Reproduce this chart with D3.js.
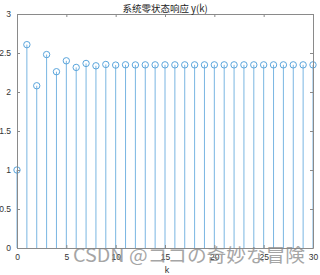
<!DOCTYPE html>
<html><head><meta charset="utf-8">
<script src="https://cdn.jsdelivr.net/npm/d3@7"></script>
<style>body{margin:0;background:#fff}svg{display:block}</style>
</head><body>
<script>
const kValues = d3.range(0, 31);
const yValues = [1, 2.607, 2.08, 2.48, 2.26, 2.40, 2.315, 2.366, 2.336, 2.353, 2.345,
  2.349, 2.347, 2.348, 2.348, 2.348, 2.348, 2.348, 2.348, 2.348, 2.348,
  2.348, 2.348, 2.348, 2.348, 2.348, 2.348, 2.348, 2.348, 2.348, 2.348];
const xTicks = [0, 5, 10, 15, 20, 25, 30];
const yTicks = [0, 0.5, 1, 1.5, 2, 2.5, 3];
const titleText = "系统零状态响应 y(k)";
const xLabel = "k";
const watermark = "CSDN @ココの奇妙な冒険";

const W = 320, H = 275;
const m = {l: 17, r: 7, t: 14, b: 27};
const svg = d3.select("body").append("svg").attr("width", W).attr("height", H);
const x = d3.scaleLinear().domain([0, 30]).range([m.l, W - m.r]);
const y = d3.scaleLinear().domain([0, 3]).range([H - m.b, m.t]);
const axisColor = "#8a8a8a", textColor = "#333";
const font = "Liberation Sans, Arial, sans-serif";

// stems
const stemColor = "#5aa5dc";
svg.append("g").selectAll("line").data(kValues).join("line")
  .attr("x1", d => x(d)).attr("x2", d => x(d))
  .attr("y1", y(0)).attr("y2", (d, i) => y(yValues[i]))
  .attr("stroke", stemColor).attr("stroke-width", 1).attr("opacity", 0.8);
svg.append("g").selectAll("circle").data(kValues).join("circle")
  .attr("cx", d => x(d)).attr("cy", (d, i) => y(yValues[i]))
  .attr("r", 3.2).attr("fill", "none").attr("stroke", stemColor).attr("stroke-width", 1);

// axes (ticks inward)
const ax = svg.append("g");
function styleAxis(g) {
  g.selectAll("path").attr("stroke", axisColor);
  g.selectAll("line").attr("stroke", axisColor);
  g.selectAll("text").attr("fill", textColor).attr("font-family", font).attr("font-size", 8.5);
}
ax.append("g").attr("transform", `translate(0,${y(0)})`)
  .call(d3.axisBottom(x).tickValues(xTicks).tickSizeInner(-3).tickSizeOuter(0).tickPadding(6))
  .call(styleAxis);
ax.append("g").attr("transform", `translate(0,${y(3)})`)
  .call(d3.axisTop(x).tickValues(xTicks).tickSizeInner(-3).tickSizeOuter(0).tickFormat(""))
  .call(styleAxis);
ax.append("g").attr("transform", `translate(${x(0)},0)`)
  .call(d3.axisLeft(y).tickValues(yTicks).tickSizeInner(-3).tickSizeOuter(0).tickPadding(6).tickFormat(d3.format("")))
  .call(styleAxis);
ax.append("g").attr("transform", `translate(${x(30)},0)`)
  .call(d3.axisRight(y).tickValues(yTicks).tickSizeInner(-3).tickSizeOuter(0).tickFormat(""))
  .call(styleAxis);

svg.append("text").attr("x", (x(0) + x(30)) / 2).attr("y", 11.5)
  .attr("text-anchor", "middle").attr("font-family", "Noto Sans CJK SC, sans-serif")
  .attr("font-size", 9.5).attr("fill", "#222").text(titleText);
svg.append("text").attr("x", (x(0) + x(30)) / 2 + 2).attr("y", 273)
  .attr("text-anchor", "middle").attr("font-family", font)
  .attr("font-size", 9).attr("fill", textColor).text(xLabel);

svg.append("text").attr("x", 73).attr("y", 262)
  .attr("textLength", 232).attr("lengthAdjust", "spacingAndGlyphs")
  .attr("font-family", "Noto Sans CJK JP, sans-serif").attr("font-size", 18)
  .attr("fill", "#888").attr("opacity", 0.75).text(watermark);
</script>
</body></html>
